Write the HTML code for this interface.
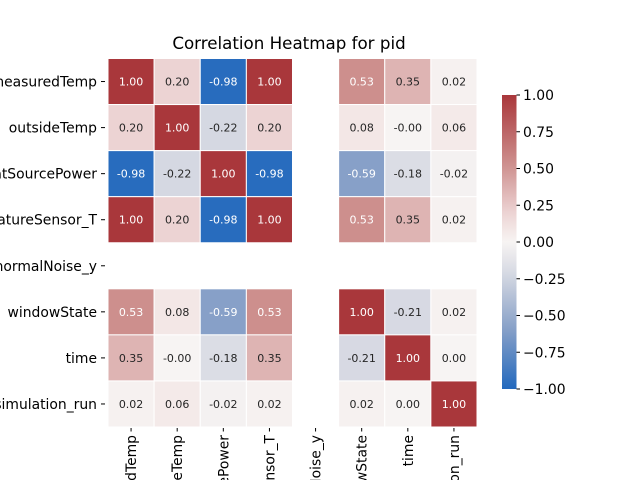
<!DOCTYPE html>
<html><head><meta charset="utf-8"><style>
html,body{margin:0;padding:0;background:#fff;width:640px;height:480px;overflow:hidden}
svg{display:block;overflow:hidden;font-family:"DejaVu Sans","Liberation Sans",sans-serif}
</style></head><body>
<svg id="chart" width="640" height="480" viewBox="0 0 640 480">
<text x="289" y="49" text-anchor="middle" font-size="16.7" fill="#000">Correlation Heatmap for pid</text>
<g id="cells"></g>
<g id="ylab"></g>
<g id="xlab"></g>
<defs><linearGradient id="cbg" x1="0" y1="1" x2="0" y2="0"></linearGradient></defs>
<g id="cbar"></g>
</svg>
<script>
const labels = ["measuredTemp","outsideTemp","heatSourcePower","temperatureSensor_T","normalNoise_y","windowState","time","simulation_run"];
const row0 = [1.00,0.20,-0.98,1.00,null,0.53,0.35,0.02];
const row1 = [0.20,1.00,-0.22,0.20,null,0.08,-0.001,0.06];
const row2 = [-0.98,-0.22,1.00,-0.98,null,-0.59,-0.18,-0.02];
const row3 = [1.00,0.20,-0.98,1.00,null,0.53,0.35,0.02];
const row4 = [null,null,null,null,null,null,null,null];
const row5 = [0.53,0.08,-0.59,0.53,null,1.00,-0.21,0.02];
const row6 = [0.35,-0.001,-0.18,0.35,null,-0.21,1.00,0.00];
const row7 = [0.02,0.06,-0.02,0.02,null,0.02,0.00,1.00];
const matrix = [row0,row1,row2,row3,row4,row5,row6,row7];
const cbTicks = [1.00,0.75,0.50,0.25,0.00,-0.25,-0.50,-0.75,-1.00];

const NS="http://www.w3.org/2000/svg";
const X0=108,X1=477,Y0=58.5,Y1=427;
const cw=(X1-X0)/labels.length, ch=(Y1-Y0)/labels.length;
const xPos=i=>X0+i*cw, yPos=i=>Y0+i*ch;
const stops=[[-1,[35,105,189]],[-0.59,[135,160,200]],[-0.22,[213,216,226]],[0,[247,244,243]],[0.2,[236,211,211]],[0.53,[205,143,141]],[1,[169,55,59]]];
function color(v){
  for(let i=0;i<stops.length-1;i++){
    const [a,ca]=stops[i],[b,cb]=stops[i+1];
    if(v<=b||i==stops.length-2){const t=Math.max(0,Math.min(1,(v-a)/(b-a)));
      return "rgb("+ca.map((c,k)=>Math.round(c+(cb[k]-c)*t)).join(",")+")";}
  }
}
function fmt(v){const s=Math.abs(v).toFixed(2);return (v<0?'-':'')+s;}
function mk(tag,attrs,parent){const e=document.createElementNS(NS,tag);for(const k in attrs)e.setAttribute(k,attrs[k]);parent.appendChild(e);return e;}
const cells=document.getElementById('cells');
matrix.forEach((row,r)=>row.forEach((v,c)=>{
  if(v===null)return;
  const rect=mk('rect',{x:xPos(c),y:yPos(r),width:cw,height:ch,fill:color(v),stroke:'#fff','stroke-width':1},cells);
  
  
  const t=mk('text',{x:xPos(c)+cw/2,y:yPos(r)+ch/2+4,'text-anchor':'middle','font-size':11,fill:Math.abs(v)>0.45?'#fff':'#262626'},cells);
  t.textContent=fmt(v);
  
  
}));
const yl=document.getElementById('ylab'), xl=document.getElementById('xlab');
labels.forEach((l,i)=>{
  const cy=yPos(i)+ch/2;
  mk('line',{x1:101,x2:105,y1:cy,y2:cy,stroke:'#000','stroke-width':1},yl);
  const t=mk('text',{x:97,y:cy+5,'text-anchor':'end','font-size':13.9,fill:'#000'},yl);
  t.textContent=l;
  
  
  const cx=xPos(i)+cw/2;
  mk('line',{x1:cx,x2:cx,y1:Y1+1,y2:Y1+4.5,stroke:'#000','stroke-width':1},xl);
  const tx=mk('text',{x:0,y:0,'text-anchor':'end','font-size':13.9,fill:'#000',transform:`translate(${cx+5},${Y1+8}) rotate(-90)`},xl);
  tx.textContent=l;
  
  
});
const grad=document.getElementById('cbg');
for(let i=0;i<=20;i++){const v=-1+i*0.1;mk('stop',{offset:(i/20),'stop-color':color(v)},grad);}
const cb=document.getElementById('cbar');
const CB0=95,CB1=389;
const cbY=v=>CB0+(1-v)/2*(CB1-CB0);
mk('rect',{x:502,y:CB0,width:14.5,height:CB1-CB0,fill:'url(#cbg)'},cb);
cbTicks.forEach(v=>{
  mk('line',{x1:516.5,x2:520,y1:cbY(v),y2:cbY(v),stroke:'#000','stroke-width':1},cb);
  const t=mk('text',{x:523,y:cbY(v)+5,'font-size':13.9,fill:'#000'},cb);
  t.textContent=(v<0?'\u2212':'')+Math.abs(v).toFixed(2);
  
  
});
</script>
</body></html>
